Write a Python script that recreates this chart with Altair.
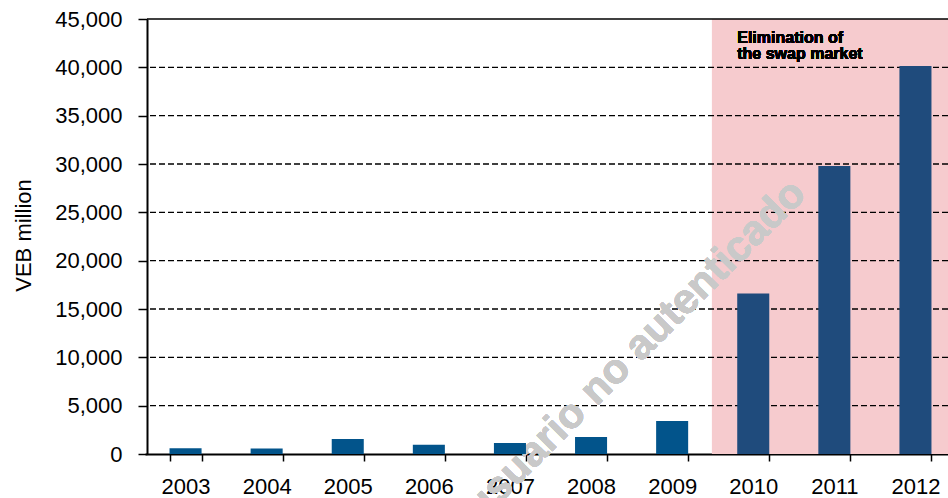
import altair as alt
import pandas as pd

# ---- data ----
years = ["2003", "2004", "2005", "2006", "2007", "2008", "2009", "2010", "2011", "2012"]
values = [600, 580, 1550, 950, 1150, 1750, 3420, 16600, 29800, 40150]
shaded_years = ["2010", "2011", "2012"]
grid_values = [5000, 10000, 15000, 20000, 25000, 30000, 35000, 40000]
top_value = [45000]
y_ticks = [0, 5000, 10000, 15000, 20000, 25000, 30000, 35000, 40000, 45000]
note_lines = ["Elimination of", "the swap market"]
watermark = "usuario no autenticado"
y_title = "VEB million"

FONT = "Liberation Sans"
BAR = "#02548b"
BAR_SHADED = "#1f4b7c"
PINK = "#f6cbce"

bars_df = pd.DataFrame({
    "year": years,
    "value": values,
    "shaded": [y in shaded_years for y in years],
})
shade_df = pd.DataFrame({"year": shaded_years, "top": [45000] * len(shaded_years), "bottom": [0] * len(shaded_years)})
grid_df = pd.DataFrame({"v": grid_values})
top_df = pd.DataFrame({"v": top_value})

P_IN = 0.605
xscale = alt.Scale(domain=years, range=[-2, 809], paddingInner=P_IN, paddingOuter=P_IN / 2)
yscale = alt.Scale(domain=[0, 45000], nice=False)

shade = alt.Chart(shade_df).mark_bar(color=PINK, width={"band": 1.02 / (1 - P_IN)}).encode(
    x=alt.X("year:N", scale=xscale, sort=years, title=None),
    y=alt.Y("top:Q", scale=yscale, title=y_title),
    y2="bottom:Q",
)

grid = alt.Chart(grid_df).mark_rule(color="black", strokeWidth=1.3, strokeDash=[6, 3]).encode(
    y=alt.Y("v:Q", scale=yscale, title=y_title)
)

top_line = alt.Chart(top_df).mark_rule(color="black", strokeWidth=1.6).encode(
    y=alt.Y("v:Q", scale=yscale, title=y_title)
)

bars = alt.Chart(bars_df).mark_bar().encode(
    x=alt.X("year:N", scale=xscale, sort=years, title=None),
    y=alt.Y("value:Q", scale=yscale, title=y_title),
    color=alt.condition(alt.datum.shaded, alt.value(BAR_SHADED), alt.value(BAR)),
)

note = alt.Chart(bars_df).mark_text(
    align="left", baseline="alphabetic", font=FONT, fontSize=16, fontWeight="bold",
    color="black", lineHeight=16.5, xOffset=-16,
).encode(
    x=alt.datum("2010", scale=xscale, title=None),
    y=alt.datum(42550, scale=yscale, title=y_title),
    text=alt.value(note_lines),
)

wm = alt.Chart(bars_df).mark_text(
    align="center", baseline="middle", font=FONT, fontSize=42, fontWeight="bold",
    color="#c9c9c9", angle=315, xOffset=44,
).encode(
    x=alt.datum("2008", scale=xscale, title=None),
    y=alt.datum(10760, scale=yscale, title=y_title),
    text=alt.value(watermark),
)

chart = alt.layer(shade, grid, top_line, wm, bars, note).properties(
    width=801,
    height=435,
    autosize=alt.AutoSizeParams(type="none"),
    padding={"left": 147, "top": 19, "right": 0, "bottom": 44},
    background="white",
).configure_view(
    stroke=None
).configure_axis(
    grid=False, domainColor="black", domainWidth=2, tickColor="black", tickWidth=1.5,
    labelFont=FONT, labelFontSize=22, labelColor="black", zindex=1,
    titleFont=FONT, titleFontSize=22, titleFontWeight="normal", titleColor="black",
).configure_axisX(
    labelAngle=0, tickBand="extent", tickSize=7, labelPadding=15,
).configure_axisY(
    values=y_ticks, labelExpr="format(datum.value, ',')", tickSize=9, labelPadding=16,
    titleX=-117, titleY=216, titleBaseline="alphabetic",
)

chart.save("out.html", embed_options={"renderer": "svg", "actions": False})
